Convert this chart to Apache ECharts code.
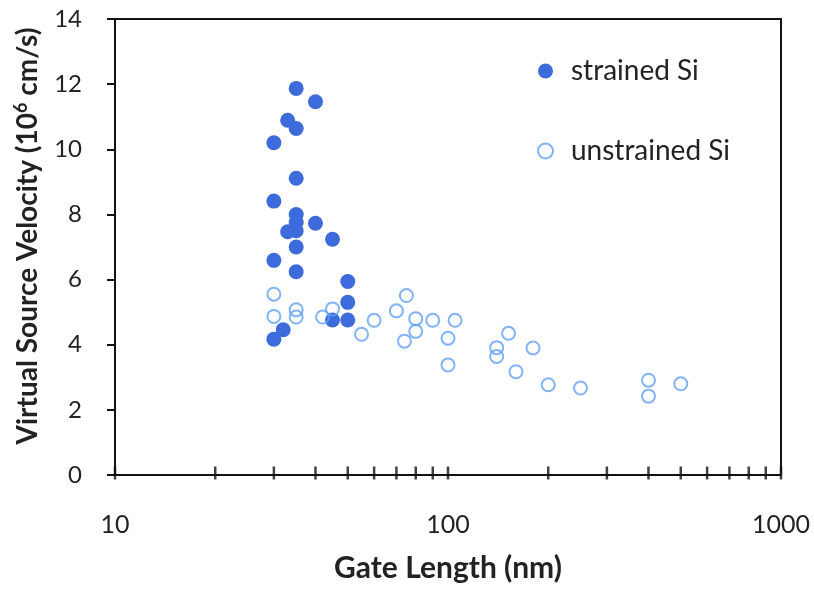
<!DOCTYPE html>
<html>
<head>
<meta charset="utf-8">
<script src="https://cdn.jsdelivr.net/npm/echarts@6/dist/echarts.min.js"></script>
<style>
  html, body { margin: 0; padding: 0; background: #fff; }
  #main { width: 814px; height: 589px; }
</style>
</head>
<body>
<div id="main"></div>
<script>
    // gate length (nm) and virtual source velocity (1e6 cm/s)
    var strainedLength   = [35, 40, 33, 35, 30, 35, 30, 35, 35, 40, 33, 35, 45, 35, 30, 35, 50, 50, 45, 50, 32, 30];
    var strainedVelocity = [11.87, 11.46, 10.89, 10.64, 10.2, 9.11, 8.41, 8.0, 7.75, 7.73, 7.47, 7.5, 7.24, 7.0, 6.59, 6.24, 5.94, 5.3, 4.76, 4.76, 4.46, 4.17];

    var unstrainedLength   = [30, 30, 35, 35, 42, 45, 55, 60, 70, 75, 80, 80, 74, 90, 105, 100, 100, 140, 140, 152, 180, 160, 200, 250, 400, 400, 500];
    var unstrainedVelocity = [5.55, 4.87, 5.07, 4.85, 4.85, 5.1, 4.32, 4.75, 5.04, 5.51, 4.8, 4.41, 4.11, 4.75, 4.75, 4.2, 3.38, 3.91, 3.64, 4.35, 3.9, 3.17, 2.77, 2.67, 2.91, 2.42, 2.8];

    // tick positions on the log x axis
    var xTicks = [10, 20, 30, 40, 50, 60, 70, 80, 90, 100, 200, 300, 400, 500, 600, 700, 800, 900, 1000];

    function pairs(xs, ys) {
        var out = [];
        for (var i = 0; i < xs.length; i++) out.push([xs[i], ys[i]]);
        return out;
    }

    var font = 'Lato, "Liberation Sans", sans-serif';
    var myChart = echarts.init(document.getElementById('main'));

    var option = {
        backgroundColor: '#fff',
        animation: false,
        grid: {
            left: 115, right: 33, top: 19, bottom: 114,
            show: true, borderColor: '#111', borderWidth: 2
        },
        legend: {
            data: ['strained Si', 'unstrained Si'],
            orient: 'vertical',
            left: 532, top: 52,
            itemGap: 52,
            itemWidth: 15, itemHeight: 15,
            textStyle: { fontFamily: font, fontSize: 28, lineHeight: 28, color: '#222', padding: [0, 0, 0, 13] }
        },
        xAxis: {
            type: 'log',
            logBase: 10,
            min: 10, max: 1000,
            name: 'Gate Length (nm)',
            nameLocation: 'middle',
            nameGap: 78,
            nameTextStyle: { fontFamily: font, fontSize: 30, fontWeight: 'bold', color: '#222' },
            axisLine: { lineStyle: { color: '#111', width: 2 } },
            axisTick: { show: false },
            splitLine: { show: false },
            axisLabel: {
                margin: 37, fontFamily: font, fontSize: 25, color: '#222',
                formatter: function (v) { return String(v); }
            }
        },
        yAxis: {
            type: 'value',
            min: 0, max: 14, interval: 2,
            name: '{a|Virtual Source Velocity (10}{s|6}{a| cm/s)}',
            nameLocation: 'middle',
            nameGap: 72,
            nameTextStyle: {
                fontFamily: font, fontWeight: 'bold', color: '#222',
                padding: [0, 0, 0, 22],
                rich: {
                    a: { fontFamily: font, fontSize: 28, fontWeight: 'bold', color: '#222', lineHeight: 31 },
                    s: { fontFamily: font, fontSize: 18, fontWeight: 'bold', color: '#222', lineHeight: 21, verticalAlign: 'top' }
                }
            },
            axisLine: { lineStyle: { color: '#111', width: 2 } },
            axisTick: { length: 8, lineStyle: { color: '#111', width: 2 } },
            splitLine: { show: false },
            axisLabel: { margin: 33, fontFamily: font, fontSize: 24, color: '#222' }
        },
        series: [
            {
                name: 'strained Si',
                type: 'scatter',
                symbol: 'circle',
                symbolSize: 15,
                itemStyle: { color: '#3d6bdc', opacity: 1 },
                data: pairs(strainedLength, strainedVelocity),
                z: 3
            },
            {
                name: 'unstrained Si',
                type: 'scatter',
                symbol: 'circle',
                symbolSize: 13,
                itemStyle: { color: 'rgba(255,255,255,0)', borderColor: '#62a0f4', borderWidth: 2 },
                data: pairs(unstrainedLength, unstrainedVelocity),
                z: 4
            },
            {
                // x axis ticks crossing the axis line
                name: 'ticks',
                type: 'scatter',
                symbol: 'rect',
                symbolSize: [2.5, 13],
                symbolOffset: [0, -2],
                silent: true,
                clip: false,
                itemStyle: { color: '#111' },
                data: xTicks.map(function (v) { return [v, 0]; }),
                z: 5
            }
        ]
    };
    myChart.setOption(option);
</script>
</body>
</html>
